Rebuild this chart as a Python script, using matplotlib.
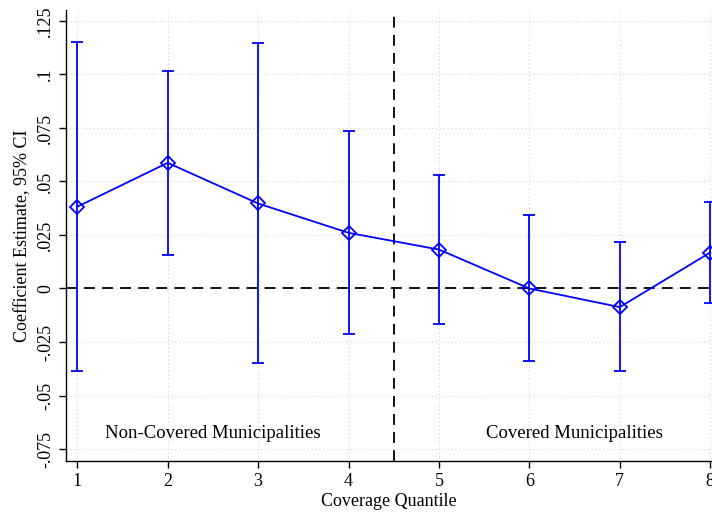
import matplotlib
matplotlib.use("Agg")
import matplotlib.pyplot as plt
import numpy as np

# coefficient estimates per coverage quantile, with 95% CI
quantiles = [1, 2, 3, 4, 5, 6, 7, 8]
coef = [0.0382, 0.0587, 0.0397, 0.0260, 0.0182, 0.0000, -0.0087, 0.0168]
ci_low = [-0.0386, 0.0157, -0.0350, -0.0215, -0.0164, -0.0341, -0.0386, -0.0069]
ci_high = [0.1150, 0.1017, 0.1146, 0.0734, 0.0531, 0.0344, 0.0215, 0.0402]
yticks = [-0.075, -0.05, -0.025, 0, 0.025, 0.05, 0.075, 0.1, 0.125]
ytick_labels = ['-.075', '-.05', '-.025', '0', '.025', '.05', '.075', '.1', '.125']

plt.rcParams['font.family'] = ['Liberation Serif', 'DejaVu Serif']
plt.rcParams['font.size'] = 13

fig = plt.figure(figsize=(7.12, 5.14), dpi=100)
ax = fig.add_axes([65.7 / 712, 1 - 461 / 514, 1 - 65.7 / 712, (461 - 10) / 514])

x = np.array(quantiles)
y = np.array(coef)
yerr = [y - np.array(ci_low), np.array(ci_high) - y]

ax.grid(True, color='#d4d4d4', linestyle=(0, (1, 2.5)), linewidth=0.8)
ax.set_axisbelow(True)
ax.axhline(0, color='black', linestyle=(0, (6, 4)), linewidth=1.3)
ax.axvline(4.5, color='black', linestyle=(0, (6, 4)), linewidth=1.3)

ax.errorbar(x, y, yerr=yerr, fmt='none', ecolor='#0000ff', elinewidth=1.3,
            capsize=4, capthick=1.3)
ax.plot(x, y, color='#0000ff', linewidth=1.3, marker='D', markersize=7,
        markerfacecolor='none', markeredgecolor='#0000ff', markeredgewidth=1.3)

ax.text(2.5, -0.0678, 'Non-Covered Municipalities', ha='center', va='center', fontsize=13.5)
ax.text(6.5, -0.0678, 'Covered Municipalities', ha='center', va='center', fontsize=13.5)

ax.set_xlim(0.872, 8.02)
ax.set_ylim(-0.0806, 0.1301)
ax.set_xticks(quantiles)
ax.set_yticks(yticks)
ax.set_yticklabels(ytick_labels, rotation=90, va='center')
ax.tick_params(direction='out', length=5, width=1)

for side in ['top', 'right']:
    ax.spines[side].set_visible(False)
for side in ['left', 'bottom']:
    ax.spines[side].set_linewidth(1)

ax.set_xlabel('Coverage Quantile', labelpad=2)
ax.set_ylabel('Coefficient Estimate, 95% CI', labelpad=4)

fig.savefig('out.png', dpi=100)
